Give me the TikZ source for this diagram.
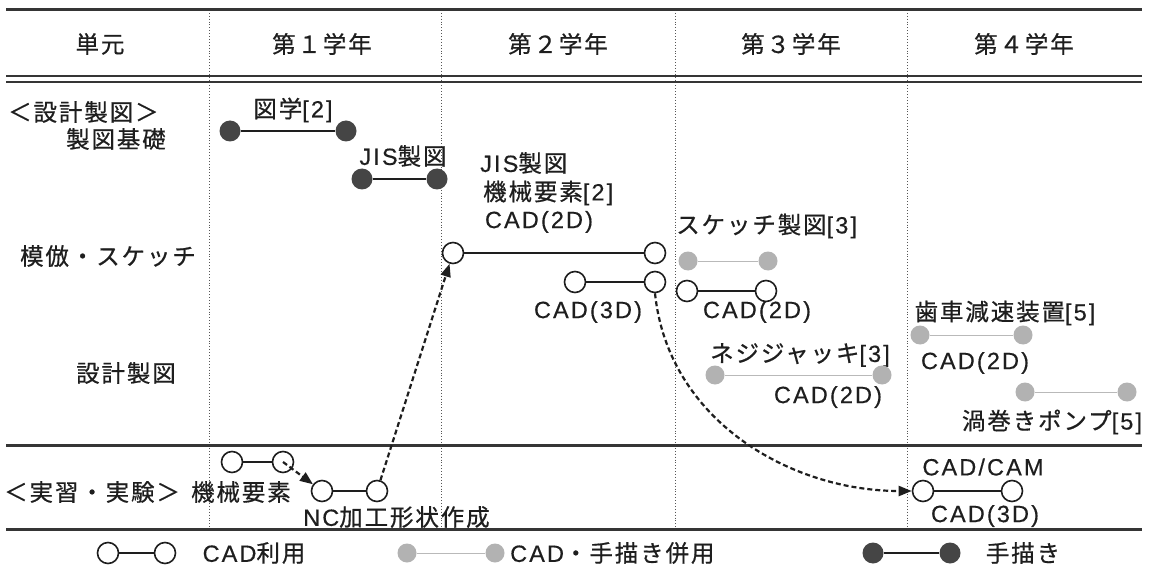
\documentclass[tikz,border=0pt]{standalone}
\usepackage{fontspec}
\setmainfont{Noto Sans CJK JP}[LetterSpace=8,FakeBold=0.6]
\newfontfamily\lat{Liberation Sans}[LetterSpace=9,FakeBold=0.4]
\usetikzlibrary{arrows.meta}
\definecolor{ink}{HTML}{1E1E1E}
\definecolor{dotdark}{HTML}{454545}
\definecolor{dotgray}{HTML}{B2B2B2}
\begin{document}
\begin{tikzpicture}[x=1pt,y=-1pt,
  txt/.style={font=\fontsize{23.5}{27}\selectfont, text=ink, inner sep=0pt},
  ocirc/.style={circle, draw=ink, fill=white, line width=1.6pt, minimum size=21pt, inner sep=0pt},
  fcirc/.style={circle, fill=dotdark, minimum size=21pt, inner sep=0pt},
  gcirc/.style={circle, fill=dotgray, minimum size=19pt, inner sep=0pt},
  slink/.style={draw=ink, line width=1.7pt},
  glink/.style={draw=gray!55, line width=1pt},
  hrule/.style={draw=ink!90, line width=3pt},
  hrulethin/.style={draw=ink!90, line width=2pt},
  vsep/.style={draw=ink!75, line width=0.9pt, dotted},
  flow/.style={draw=ink, line width=2.2pt, dash pattern=on 5pt off 3pt, -{Triangle[length=13pt,width=10pt]}}
]
\fill[white] (0,0) rectangle (1151,572);
\useasboundingbox (0,0) rectangle (1151,572);

% vertical dotted separators
\foreach \vx/\nm in {209/a,441/b,675/c,907/d}{
  \coordinate (vt\nm) at (\vx,10);
  \coordinate (vb\nm) at (\vx,529);
  \draw[vsep] (vt\nm) -- (vb\nm);
}
% horizontal rules
\coordinate (hl1) at (6,10);   \coordinate (hr1) at (1142,10);
\coordinate (hl2) at (6,76);   \coordinate (hr2) at (1142,76);
\coordinate (hl3) at (6,82);   \coordinate (hr3) at (1142,82);
\coordinate (hl4) at (6,445);  \coordinate (hr4) at (1142,445);
\coordinate (hl5) at (6,529);  \coordinate (hr5) at (1142,529);
\draw[hrule] (hl1) -- (hr1);
\draw[hrulethin] (hl2) -- (hr2);
\draw[hrulethin] (hl3) -- (hr3);
\draw[hrule] (hl4) -- (hr4);
\draw[hrule] (hl5) -- (hr5);

% header
\node[txt] (h0) at (100,44) {単元};
\node[txt] (h1) at (322,44) {第１学年};
\node[txt] (h2) at (558,44) {第２学年};
\node[txt] (h3) at (791,44) {第３学年};
\node[txt] (h4) at (1024,44) {第４学年};

% left labels
\node[txt,anchor=west] (l1) at (8,112) {＜設計製図＞};
\node[txt,anchor=east] (l2) at (166,139) {製図基礎};
\node[txt] (l3) at (108,256) {模倣・スケッチ};
\node[txt] (l4) at (126,373) {設計製図};
\node[txt,anchor=west] (l5) at (4,492) {＜実習・実験＞};
\node[txt,anchor=east] (l6) at (291,492) {機械要素};

% year 1: hand drawing
\node[txt] (t1) at (293,110) {図学{\lat[2]}};
\node[fcirc] (f1a) at (230,131) {};
\node[fcirc] (f1b) at (346,131) {};
\draw[slink] (f1a) -- (f1b);
\node[txt] (t2) at (403,156) {{\lat JIS}製図};
\node[fcirc] (f2a) at (362,179) {};
\node[fcirc] (f2b) at (437,179) {};
\draw[slink] (f2a) -- (f2b);

% year 2
\node[txt,anchor=west] (t3) at (480,163) {{\lat JIS}製図};
\node[txt,anchor=west] (t4) at (483,193) {機械要素{\lat[2]}};
\node[txt] (t5) at (539,222) {\lat CAD(2D)};
\node[ocirc] (o1a) at (453,253) {};
\node[ocirc] (o1b) at (655,253) {};
\draw[slink] (o1a) -- (o1b);
\node[ocirc] (o2a) at (575,282) {};
\node[ocirc] (o2b) at (655,282) {};
\draw[slink] (o2a) -- (o2b);
\node[txt] (t6) at (588,312) {\lat CAD(3D)};

% year 3
\node[txt,anchor=west] (t7) at (676,226) {スケッチ製図{\lat[3]}};
\node[gcirc] (g1a) at (688,261) {};
\node[gcirc] (g1b) at (768,261) {};
\draw[glink] (g1a) -- (g1b);
\node[ocirc] (o3a) at (687,291) {};
\node[ocirc] (o3b) at (766,291) {};
\draw[slink] (o3a) -- (o3b);
\node[txt] (t8) at (757,312) {\lat CAD(2D)};
\node[txt] (t9) at (800,355) {ネジジャッキ{\lat[3]}};
\node[gcirc] (g2a) at (715,375) {};
\node[gcirc] (g2b) at (882,375) {};
\draw[glink] (g2a) -- (g2b);
\node[txt] (t10) at (828,397) {\lat CAD(2D)};

% year 4
\node[txt] (t11) at (1005,313) {歯車減速装置{\lat[5]}};
\node[gcirc] (g3a) at (920,335) {};
\node[gcirc] (g3b) at (1023,335) {};
\draw[glink] (g3a) -- (g3b);
\node[txt] (t12) at (975,363) {\lat CAD(2D)};
\node[gcirc] (g4a) at (1025,392) {};
\node[gcirc] (g4b) at (1127,392) {};
\draw[glink] (g4a) -- (g4b);
\node[txt] (t13) at (1052,422) {渦巻きポンプ{\lat[5]}};

% practice / experiment
\node[ocirc] (o4a) at (232,462) {};
\node[ocirc] (o4b) at (283,462) {};
\draw[slink] (o4a) -- (o4b);
\node[ocirc] (o5a) at (322,491) {};
\node[ocirc] (o5b) at (377,491) {};
\draw[slink] (o5a) -- (o5b);
\node[txt,anchor=west] (t14) at (303,517) {{\lat NC}加工形状作成};

\node[txt] (t15) at (983,467) {\lat CAD/CAM};
\node[ocirc] (o6a) at (923,491) {};
\node[ocirc] (o6b) at (1012,491) {};
\draw[slink] (o6a) -- (o6b);
\node[txt] (t16) at (985,516) {\lat CAD(3D)};

% flow arrows
\draw[flow] (o4b.center) -- (o5a);
\draw[flow] (o5b) -- (o1a);
\draw[flow] (o2b.south) .. controls (668,420) and (790,491) .. (o6a.west);

% legend
\node[ocirc] (k1a) at (108,553) {};
\node[ocirc] (k1b) at (165,553) {};
\draw[slink] (k1a) -- (k1b);
\node[txt] (k1) at (254,553) {{\lat CAD}利用};
\node[gcirc] (k2a) at (407,553) {};
\node[gcirc] (k2b) at (495,553) {};
\draw[glink] (k2a) -- (k2b);
\node[txt,anchor=west] (k2) at (510,553) {{\lat CAD}・手描き併用};
\node[fcirc] (k3a) at (873,553) {};
\node[fcirc] (k3b) at (950,553) {};
\draw[slink] (k3a) -- (k3b);
\node[txt] (k3) at (1023,553) {手描き};
\end{tikzpicture}
\end{document}
